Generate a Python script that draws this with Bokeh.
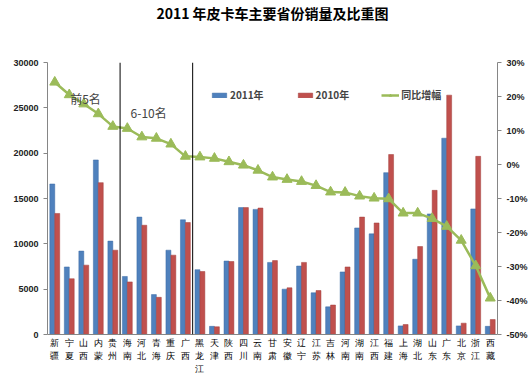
from bokeh.plotting import figure
from bokeh.models import (Range1d, LinearAxis, FixedTicker, Span, Label, Legend, Title,
                          LegendItem, ColumnDataSource, CustomJSTickFormatter, CategoricalAxis)
from bokeh.transform import dodge
from bokeh.embed import file_html
from bokeh.resources import INLINE

provinces = ["新疆", "宁夏", "山西", "内蒙", "贵州", "海南", "河北", "青海", "重庆", "广西",
             "黑龙江", "天津", "陕西", "四川", "云南", "甘肃", "安徽", "辽宁", "江苏", "吉林",
             "河南", "湖南", "江西", "福建", "上海", "湖北", "山东", "广东", "北京", "浙江", "西藏"]
sales_2011 = [16600, 7450, 9200, 19250, 10300, 6400, 12950, 4400, 9300, 12650,
              7150, 900, 8100, 14000, 13800, 7950, 5000, 7550, 4600, 3050,
              6900, 11750, 11100, 17850, 950, 8300, 13300, 21650, 950, 13850, 900]
sales_2010 = [13350, 6150, 7650, 16750, 9300, 5800, 12050, 4100, 8750, 12350,
              6950, 850, 8050, 14000, 13950, 8150, 5150, 7950, 4850, 3250,
              7450, 12950, 12300, 19850, 1100, 9700, 15900, 26400, 1250, 19650, 1650]
growth_pct = [24.2, 20.5, 17.8, 14.9, 11.2, 10.6, 8.1, 7.7, 6.0, 2.4,
              2.2, 1.8, 0.8, -0.2, -1.7, -3.7, -4.4, -5.0, -6.2, -8.1,
              -8.2, -9.3, -9.9, -10.1, -14.3, -14.3, -15.9, -18.2, -22.3, -29.8, -39.3]
left_ticks = [0, 5000, 10000, 15000, 20000, 25000, 30000]
right_ticks = [-50, -40, -30, -20, -10, 0, 10, 20, 30]
group_labels = ["前5名", "6-10名"]

src = ColumnDataSource(dict(prov=provinces, s11=sales_2011, s10=sales_2010, g=growth_pct))

p = figure(width=530, height=376, x_range=provinces, y_range=Range1d(0, 30000),
           output_backend="svg", toolbar_location=None,
           min_border_left=47, min_border_right=33, min_border_top=61, min_border_bottom=40)
# spacer between frame and title
p.add_layout(Title(text=" ", text_font_size="12px", standoff=24), "above")
p.title.text = "2011 年皮卡车主要省份销量及比重图"
p.title.align = "center"
p.title.standoff = 0
p.title.text_font = "Noto Sans CJK SC"
p.title.text_font_size = "14px"
p.title.text_font_style = "bold"
p.title.text_color = "#000000"
p.outline_line_color = None
p.xgrid.grid_line_color = None
p.ygrid.grid_line_color = None
p.background_fill_color = "white"

p.extra_y_ranges = {"pct": Range1d(-50, 30)}

b1 = p.vbar(x=dodge("prov", -0.17, range=p.x_range), top="s11", width=0.34, source=src,
            fill_color="#4F81BD", line_color="#3A6AA5", line_width=0.5)
b2 = p.vbar(x=dodge("prov", 0.17, range=p.x_range), top="s10", width=0.34, source=src,
            fill_color="#C0504D", line_color="#A33F3C", line_width=0.5)
ln = p.line(x="prov", y="g", source=src, y_range_name="pct", line_color="#9BBB59", line_width=2.5)
mk = p.scatter(x="prov", y="g", source=src, y_range_name="pct", marker="triangle", size=10,
               fill_color="#9BBB59", line_color="#9BBB59")

# separators between groups
for idx in (5, 10):
    p.add_layout(Span(location=idx, dimension="height", line_color="black", line_width=1))

p.add_layout(Label(x=2.62, y=26030, text=group_labels[0], text_font="Noto Sans CJK SC",
                   text_font_size="12px", text_align="center", text_baseline="middle"))
p.add_layout(Label(x=6.97, y=24500, text=group_labels[1], text_font="Noto Sans CJK SC",
                   text_font_size="12px", text_align="center", text_baseline="middle"))

# stacked vertical category labels: one axis row per character
def style_row(a, k):
    a.formatter = CustomJSTickFormatter(args=dict(k=k),
                                        code="var s = String(tick); return s.length > k ? s[k] : ' ';")
    a.major_label_text_font = "Liberation Sans"
    a.major_label_text_font_size = "9px"
    a.major_label_text_color = "#000000"
    a.major_label_standoff = 0 if k else 3
    a.major_tick_line_color = None
    a.major_tick_out = 0
    a.major_tick_in = 0
    a.minor_tick_line_color = None

ax = p.xaxis[0]
style_row(ax, 0)
ax.axis_line_color = "#868686"
for k in (1, 2):
    extra = CategoricalAxis()
    style_row(extra, k)
    extra.axis_line_color = None
    p.add_layout(extra, "below")

ly = p.yaxis[0]
ly.ticker = FixedTicker(ticks=left_ticks)
ly.axis_line_color = "#868686"
ly.major_tick_line_color = "#868686"
ly.major_tick_out = 4
ly.major_tick_in = 0
ly.minor_tick_line_color = None
ly.major_label_text_font = "Liberation Sans"
ly.major_label_text_font_size = "9px"
ly.major_label_text_font_style = "bold"
ly.major_label_text_color = "#222222"

ry = LinearAxis(y_range_name="pct", ticker=FixedTicker(ticks=right_ticks),
                formatter=CustomJSTickFormatter(code="return tick + '%';"))
ry.axis_line_color = "#868686"
ry.major_tick_line_color = "#868686"
ry.major_tick_out = 4
ry.major_tick_in = 0
ry.minor_tick_line_color = None
ry.major_label_text_font = "Liberation Sans"
ry.major_label_text_font_size = "9px"
ry.major_label_text_font_style = "bold"
ry.major_label_text_color = "#222222"
p.add_layout(ry, "right")

legend = Legend(items=[LegendItem(label="2011年", renderers=[b1]),
                       LegendItem(label="2010年", renderers=[b2]),
                       LegendItem(label="同比增幅", renderers=[ln, mk])],
                orientation="horizontal", location=(163, 232), spacing=32,
                padding=0, margin=0, border_line_color=None, background_fill_alpha=0,
                label_text_font="Noto Sans CJK SC", label_text_font_size="10px",
                label_text_font_style="bold", glyph_width=18, glyph_height=6,
                label_standoff=2, label_height=12)
p.add_layout(legend, "center")

open("out.html", "w").write(file_html(p, INLINE))
